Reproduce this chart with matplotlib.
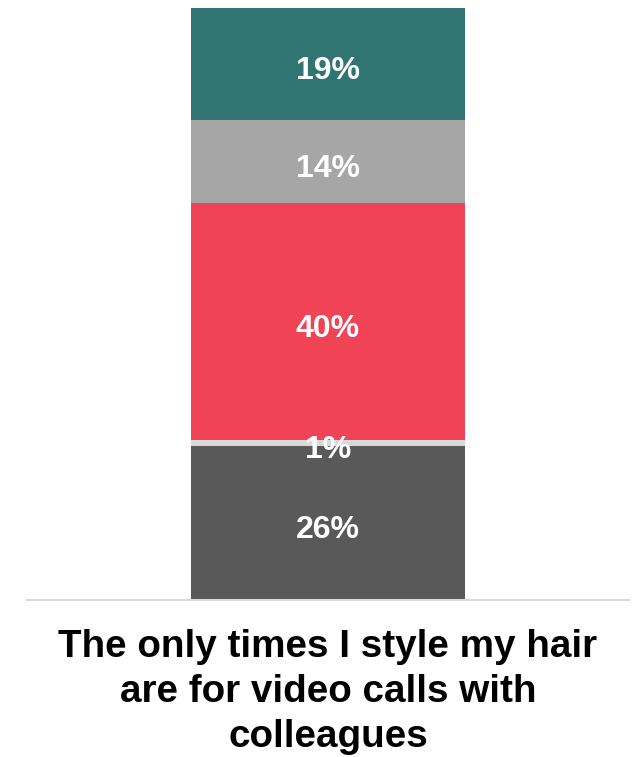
import matplotlib.pyplot as plt

plt.rcParams['font.family'] = ['Liberation Sans', 'DejaVu Sans']

# bottom to top
segment_values = [26, 1, 40, 14, 19]
segment_colors = ['#595959', '#d9d9d9', '#f04355', '#a6a6a6', '#317572']
category_label = 'The only times I style my hair\nare for video calls with\ncolleagues'

fig = plt.figure(figsize=(6.33, 7.57), dpi=100)
ax = fig.add_axes([27 / 633, 157 / 757, 602 / 633, 592 / 757])

bottom = 0
for val, col in zip(segment_values, segment_colors):
    ax.bar(0.5, val, width=0.455, bottom=bottom, color=col, linewidth=0)
    ax.text(0.5, bottom + val / 2 - 0.6, f'{val}%', ha='center', va='center_baseline',
            color='white', fontsize=23, fontweight='bold')
    bottom += val

ax.set_xlim(0, 1)
ax.set_ylim(0, sum(segment_values))
for side in ['top', 'right', 'left']:
    ax.spines[side].set_visible(False)
ax.spines['bottom'].set_color('#d9d9d9')
ax.spines['bottom'].set_linewidth(1.5)
ax.set_xticks([])
ax.set_yticks([])

fig.text(328 / 633, 1 - 692 / 757, category_label, ha='center', va='center',
         fontsize=27.8, fontweight='bold', linespacing=1.32)

fig.savefig('out.png', dpi=100)
